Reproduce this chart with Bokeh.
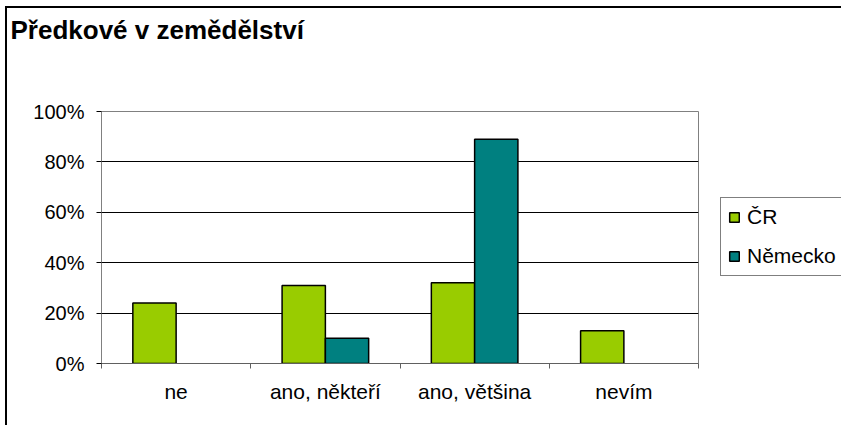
from bokeh.plotting import figure
from bokeh.models import (Range1d, FixedTicker, PrintfTickFormatter, Legend, LegendItem,
                          ColumnDataSource, Title)
from bokeh.embed import file_html
from bokeh.resources import INLINE

categories = ["ne", "ano, někteří", "ano, většina", "nevím"]
series_names = ["ČR", "Německo"]
cr_values = [24, 31, 32, 13]
de_values = [0, 10, 89, 0]
y_ticks = [0, 20, 40, 60, 80, 100]
title_text = "Předkové v zemědělství"

FONT = "Liberation Sans"
GREEN = "#99CC00"
TEAL = "#008080"
BAR_W = 0.29

W, H = 826, 417
ML, MT, FW, FH = 94, 103, 597, 252
p = figure(frame_width=FW, frame_height=FH, output_backend="svg", toolbar_location=None,
           x_range=Range1d(0, len(categories)), y_range=Range1d(0, 100),
           min_border_left=ML, min_border_right=W - ML - FW,
           min_border_top=MT, min_border_bottom=H - MT - FH)
p.styles = {"margin-left": "5px", "margin-top": "6px",
            "border-top": "2px solid black", "border-left": "2px solid black"}
p.background_fill_color = "white"
p.border_fill_color = "white"
p.outline_line_color = "#808080"
p.outline_line_width = 1

# spacer between frame and title (inner 'above' panel)
p.add_layout(Title(text=" ", text_font_size="10px", standoff=54), "above")

p.title.text = title_text
p.title.align = "left"
p.title.offset = -91
p.title.standoff = 0
p.title.text_font = FONT
p.title.text_font_size = "26px"
p.title.text_font_style = "bold"
p.title.text_color = "black"


def bar_source(values, offset):
    xs = [i + 0.5 + offset for i, v in enumerate(values) if v > 0]
    tops = [v for v in values if v > 0]
    return ColumnDataSource(dict(x=xs, top=tops))


r_cr = p.vbar(x="x", top="top", width=BAR_W, source=bar_source(cr_values, -BAR_W / 2),
              fill_color=GREEN, line_color="black", line_width=1.5)
r_de = p.vbar(x="x", top="top", width=BAR_W, source=bar_source(de_values, BAR_W / 2),
              fill_color=TEAL, line_color="black", line_width=1.5)

# grid
p.xgrid.visible = False
p.ygrid.ticker = FixedTicker(ticks=[t for t in y_ticks if 0 < t < 100])
p.ygrid.grid_line_color = "black"
p.ygrid.grid_line_width = 1

# y axis
p.yaxis.ticker = FixedTicker(ticks=y_ticks)
p.yaxis.formatter = PrintfTickFormatter(format="%d%%")
p.yaxis.axis_line_color = "#808080"
p.yaxis.major_tick_line_color = "black"
p.yaxis.major_tick_in = 0
p.yaxis.major_tick_out = 5
p.yaxis.minor_tick_line_color = None
p.yaxis.major_label_text_font = FONT
p.yaxis.major_label_text_font_size = "20px"
p.yaxis.major_label_text_color = "black"
p.yaxis.major_label_standoff = 12

# x axis: labels at centres, ticks at boundaries
idx = list(range(len(categories)))
p.xaxis.ticker = FixedTicker(ticks=[i + 0.5 for i in idx],
                             minor_ticks=list(range(len(categories) + 1)))
p.xaxis.major_label_overrides = {i + 0.5: c for i, c in zip(idx, categories)}
p.xaxis.major_tick_line_color = None
p.xaxis.minor_tick_line_color = "#606060"
p.xaxis.minor_tick_in = 0
p.xaxis.minor_tick_out = 5
p.xaxis.axis_line_color = "#606060"
p.xaxis.major_label_text_font = FONT
p.xaxis.major_label_text_font_size = "21px"
p.xaxis.major_label_text_color = "black"
p.xaxis.major_label_standoff = 10

legend = Legend(items=[LegendItem(label=series_names[0], renderers=[r_cr]),
                       LegendItem(label=series_names[1], renderers=[r_de])],
                location=(22, 87))
legend.label_text_font = FONT
legend.label_text_font_size = "21px"
legend.label_text_color = "black"
legend.glyph_width = 12
legend.glyph_height = 12
legend.label_standoff = 7
legend.label_height = 24
legend.spacing = 15
legend.padding = 7
legend.margin = 0
legend.border_line_color = "black"
legend.border_line_width = 1
legend.background_fill_alpha = 1
p.add_layout(legend, "right")

open("out.html", "w").write(file_html(p, INLINE))
